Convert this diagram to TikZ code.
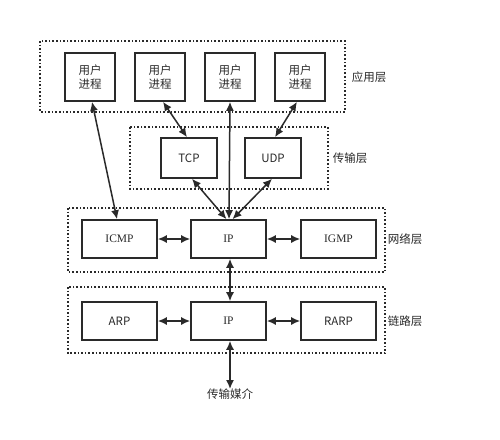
\documentclass[tikz,border=0pt]{standalone}
\usepackage{fontspec}
\setmainfont{Noto Sans CJK SC}
\newfontfamily\serifl{Liberation Serif}
\usetikzlibrary{arrows.meta}
\definecolor{ink}{HTML}{2A2A2A}
\begin{document}
\begin{tikzpicture}[x=1pt,y=-1pt,
  box/.style={draw=ink,line width=1.6pt,inner sep=0pt,text=ink,font=\fontsize{11.5pt}{14pt}\selectfont,align=center},
  procbox/.style={box,minimum width=50pt,minimum height=48pt},
  tbox/.style={box,minimum width=56pt,minimum height=40pt},
  nbox/.style={box,minimum width=75pt,minimum height=38pt},
  layer/.style={draw=ink,line width=1.6pt,dotted},
  lbl/.style={text=ink,font=\fontsize{11.5pt}{14pt}\selectfont,inner sep=0pt},
  link/.style={draw=ink,line width=1.5pt,{Latex[length=9pt,width=8pt]}-{Latex[length=9pt,width=8pt]}}
]
\useasboundingbox[fill=white] (0,0) rectangle (500,439);
% layers
\draw[layer] (40,41) rectangle (345,112);
\draw[layer] (130,127) rectangle (328,189);
\draw[layer] (68,208) rectangle (385,272);
\draw[layer] (68,287) rectangle (385,353);
% application
\node[procbox] (p1) at (90,77) {用户\\进程};
\node[procbox] (p2) at (160,77) {用户\\进程};
\node[procbox] (p3) at (230,77) {用户\\进程};
\node[procbox] (p4) at (300,77) {用户\\进程};
\node[lbl] (l1) at (369,77) {应用层};
% transport
\node[tbox] (tcp) at (189,158) {TCP};
\node[tbox] (udp) at (273,158) {UDP};
\node[lbl] (l2) at (350,158) {传输层};
% network
\node[nbox] (icmp) at (119.5,239) {\serifl ICMP};
\node[nbox] (ip1) at (228.5,239) {\serifl IP};
\node[nbox] (igmp) at (338.5,239) {\serifl IGMP};
\node[lbl] (l3) at (405,239) {网络层};
% link
\node[nbox] (arp) at (119.5,321) {ARP};
\node[nbox] (ip2) at (228.5,321) {\serifl IP};
\node[nbox] (rarp) at (338.5,321) {RARP};
\node[lbl] (l4) at (405,321) {链路层};
\node[lbl,anchor=north] (media) at (230,389) {传输媒介};
% connectors
\draw[link] ([xshift=2pt]p1.south) -- ([xshift=-2.5pt]icmp.north);
\draw[link] ([xshift=3pt]p2.south) -- ([xshift=-2pt]tcp.north);
\draw[link] ([xshift=0pt]p3.south) -- ([xshift=0.5pt]ip1.north);
\draw[link] ([xshift=-3pt]p4.south) -- ([xshift=2pt]udp.north);
\draw[link] ([xshift=3pt]tcp.south) -- ([xshift=-2pt]ip1.north);
\draw[link] ([xshift=-1pt]udp.south) -- ([xshift=4pt]ip1.north);
\draw[link] (icmp) -- (ip1);
\draw[link] (ip1) -- (igmp);
\draw[link] ([xshift=1.5pt]ip1.south) -- ([xshift=1.5pt]ip2.north);
\draw[link] (arp) -- (ip2);
\draw[link] (ip2) -- (rarp);
\draw[link] ([xshift=1.5pt]ip2.south) -- (media.north);
\end{tikzpicture}
\end{document}
